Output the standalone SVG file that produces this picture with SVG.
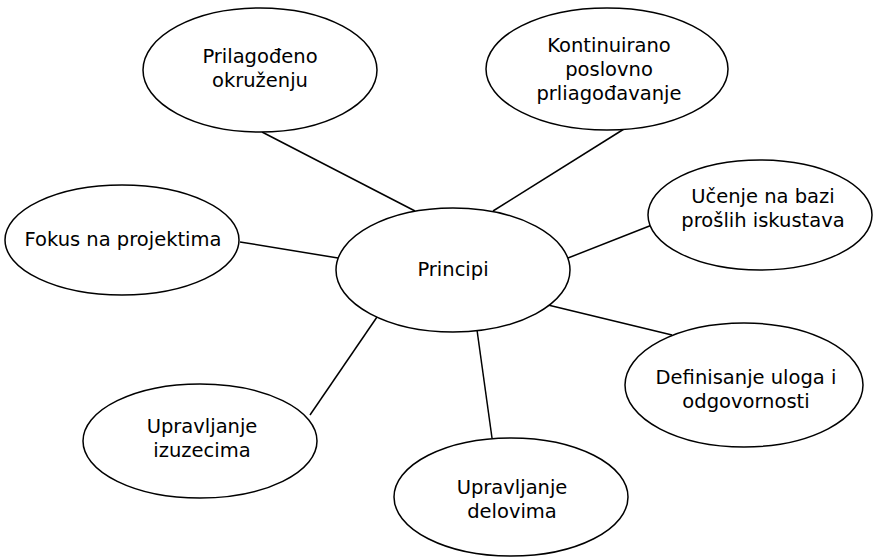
<svg xmlns="http://www.w3.org/2000/svg" width="874" height="558" viewBox="0 0 874 558">
<style>
.n ellipse{fill:#fff;stroke:#000;stroke-width:1.5}
.n text{font-family:"DejaVu Sans","Open Sans",sans-serif;font-size:19.5px;fill:#000;text-anchor:middle}
#edges line{stroke:#000;stroke-width:1.5}
</style>
<rect width="874" height="558" fill="#fff"/>
<g id="edges">
<line x1="262" y1="132" x2="415" y2="211"/>
<line x1="624" y1="129" x2="493" y2="211"/>
<line x1="652" y1="225" x2="568" y2="258"/>
<line x1="240" y1="242" x2="338" y2="258"/>
<line x1="548" y1="305" x2="672" y2="335"/>
<line x1="377" y1="317" x2="310" y2="415"/>
<line x1="477" y1="330" x2="492" y2="438"/>
</g>
<g id="principi" class="n"><ellipse cx="453" cy="270" rx="117" ry="62"/><text x="453" y="276">Principi</text></g>
<g id="prilagodjeno" class="n"><ellipse cx="260" cy="70" rx="117" ry="62"/><text x="260" y="63">Prilagođeno</text><text x="260" y="87">okruženju</text></g>
<g id="kontinuirano" class="n"><ellipse cx="607" cy="69" rx="121" ry="61"/><text x="609" y="52">Kontinuirano</text><text x="609" y="76">poslovno</text><text x="609" y="100">prliagođavanje</text></g>
<g id="ucenje" class="n"><ellipse cx="760" cy="215" rx="112" ry="55"/><text x="763" y="203">Učenje na bazi</text><text x="763" y="227">prošlih iskustava</text></g>
<g id="fokus" class="n"><ellipse cx="122" cy="240" rx="117" ry="55"/><text x="123" y="246">Fokus na projektima</text></g>
<g id="definisanje" class="n"><ellipse cx="744" cy="385" rx="119" ry="62"/><text x="746" y="384">Definisanje uloga i</text><text x="746" y="408">odgovornosti</text></g>
<g id="izuzeci" class="n"><ellipse cx="200" cy="441" rx="117" ry="57"/><text x="202" y="433">Upravljanje</text><text x="202" y="457">izuzecima</text></g>
<g id="delovi" class="n"><ellipse cx="511" cy="497" rx="117" ry="59"/><text x="512" y="494">Upravljanje</text><text x="512" y="518">delovima</text></g>
</svg>
